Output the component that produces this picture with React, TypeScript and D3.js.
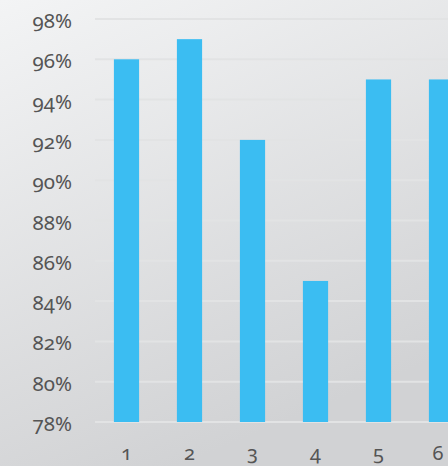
import { useEffect, useRef } from "react"
import * as d3 from "d3"

const categories = ["1", "2", "3", "4", "5", "6"]
const values = [96, 97, 92, 85, 95, 95]
const yTicks = [78, 80, 82, 84, 86, 88, 90, 92, 94, 96, 98]

export default function App() {
  const svgRef = useRef<SVGSVGElement>(null)

  useEffect(() => {
    if (!svgRef.current) return
    const width = 448
    const height = 466

    const svg = d3.select(svgRef.current)
    svg.selectAll("*").remove()

    // background gradient
    const defs = svg.append("defs")
    const grad = defs.append("linearGradient")
      .attr("id", "bg")
      .attr("x1", "0%").attr("y1", "0%")
      .attr("x2", "40%").attr("y2", "100%")
    grad.append("stop").attr("offset", "0%").attr("stop-color", "#f3f4f5")
    grad.append("stop").attr("offset", "100%").attr("stop-color", "#d1d2d4")

    svg.append("rect")
      .attr("width", width)
      .attr("height", height)
      .attr("fill", "url(#bg)")

    const x = d3.scaleBand<string>()
      .domain(categories)
      .range([95, 95 + 6 * 63])
      .paddingInner(0.6)
      .paddingOuter(0.3)

    const y = d3.scaleLinear()
      .domain([78, 98])
      .range([422, 19])

    // gridlines
    svg.append("g")
      .selectAll("line")
      .data(yTicks)
      .join("line")
      .attr("x1", 95)
      .attr("x2", width)
      .attr("y1", d => y(d))
      .attr("y2", d => y(d))
      .attr("stroke", "#e2e3e4")
      .attr("stroke-width", 2)

    // y labels
    svg.append("g")
      .selectAll("text")
      .data(yTicks)
      .join("text")
      .attr("x", 72)
      .attr("y", d => y(d) + 9)
      .attr("text-anchor", "end")
      .attr("fill", "#555")
      .attr("font-size", 20.5)
      .text(d => `${d}%`)

    // bars
    svg.append("g")
      .selectAll("rect")
      .data(values)
      .join("rect")
      .attr("x", (_, i) => x(categories[i]) ?? 0)
      .attr("y", d => y(d))
      .attr("width", x.bandwidth())
      .attr("height", d => y(78) - y(d))
      .attr("fill", "#3bbdf2")

    // x labels
    svg.append("g")
      .selectAll("text")
      .data(categories)
      .join("text")
      .attr("x", d => Math.min((x(d) ?? 0) + x.bandwidth() / 2, 438))
      .attr("y", 460)
      .attr("text-anchor", "middle")
      .attr("fill", "#555")
      .attr("font-size", 20)
      .text(d => d)
  }, [])

  return (
    <div style={{ position: "fixed", left: 0, top: 0 }}>
      <svg
        ref={svgRef}
        width={448}
        height={466}
        style={{
          display: "block",
          fontFamily: "'Noto Sans', sans-serif",
          fontVariantNumeric: "oldstyle-nums",
        }}
      />
    </div>
  )
}
